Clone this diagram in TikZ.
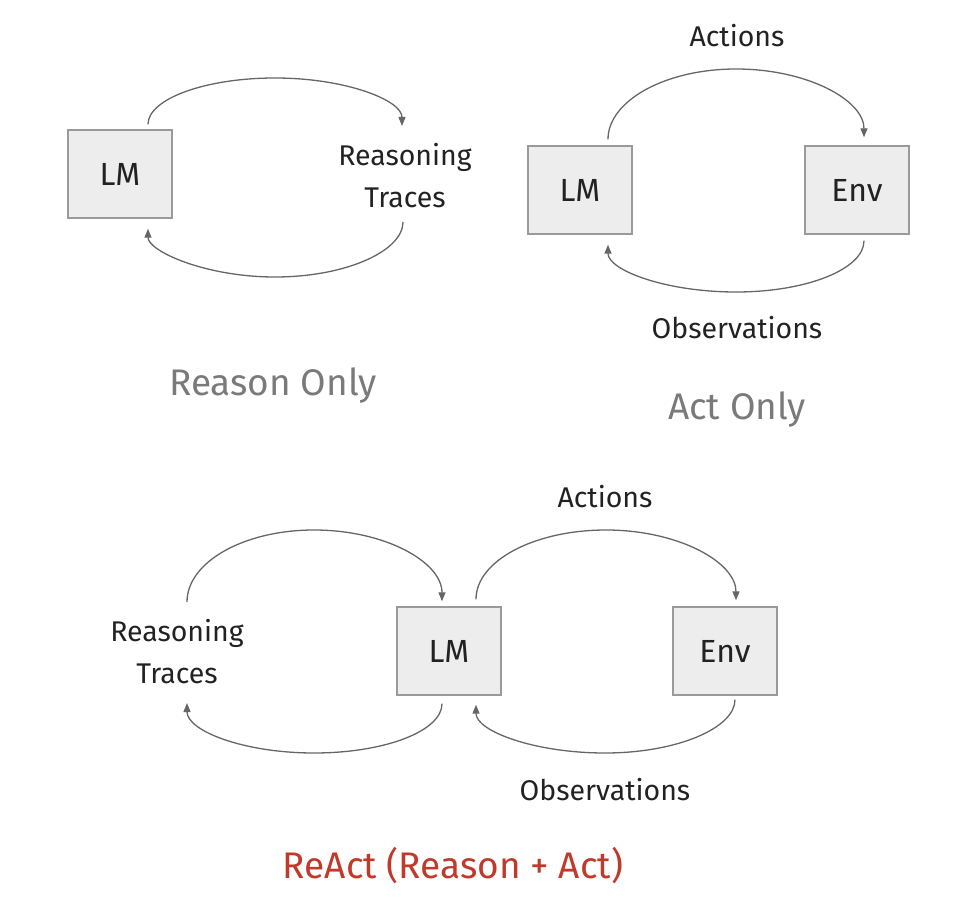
\documentclass[tikz,border=0pt]{standalone}
\usepackage{fontspec}
\setmainfont{Fira Sans}
\usetikzlibrary{arrows.meta}
\definecolor{boxfill}{HTML}{EDEDED}
\definecolor{boxline}{HTML}{9A9A9A}
\definecolor{flow}{HTML}{666666}
\definecolor{ink}{HTML}{222222}
\definecolor{caption}{HTML}{7A7A7A}
\definecolor{reactred}{HTML}{C0392B}
\tikzset{
  block/.style={draw=boxline, fill=boxfill, line width=1.4pt,
    minimum width=104pt, minimum height=88pt, inner sep=0pt,
    font=\fontsize{32}{38}\selectfont, text=ink},
  label/.style={font=\fontsize{28.5}{42}\selectfont, text=ink, align=center, inner sep=0pt},
  title/.style={font=\fontsize{37}{44}\selectfont, inner sep=0pt},
  loop/.style={draw=flow, line width=1.3pt, -{Triangle[length=9pt,width=7pt]}}
}
\begin{document}
\begin{tikzpicture}[x=1pt, y=-1pt]
\useasboundingbox (0,0) rectangle (970,912);

% ---- Reason only ----
\node[block] (lm1) at (120,174) {LM};
\node[label] (rt1) at (405,176) {Reasoning\\Traces};
\coordinate (rt1in) at (402,126);
\coordinate (rt1out) at (403,222);
\coordinate (m1a) at (275,78);
\coordinate (m1b) at (275,277);
\draw[loop] ([xshift=28pt,yshift=5pt]lm1.north)
  .. controls (148,99) and (205,78) .. (m1a)
  .. controls (345,78) and (402,100) .. (rt1in);
\draw[loop] (rt1out)
  .. controls (403,251) and (346,277) .. (m1b)
  .. controls (205,277) and (148,251) .. ([xshift=28pt,yshift=-10pt]lm1.south);
\node[title, text=caption] (t1) at (273,386) {Reason Only};

% ---- Act only ----
\node[block] (lm2) at (580,190) {LM};
\node[block] (env2) at (857,190) {Env};
\node[label] (act2) at (737,36) {Actions};
\node[label] (obs2) at (737,328) {Observations};
\coordinate (m2a) at (736,69);
\coordinate (m2b) at (736,292);
\draw[loop] ([xshift=28pt,yshift=6pt]lm2.north)
  .. controls (608,101) and (665,69) .. (m2a)
  .. controls (807,69) and (864,100) .. ([xshift=7pt,yshift=8pt]env2.north);
\draw[loop] ([xshift=7pt,yshift=-6pt]env2.south)
  .. controls (864,269) and (807,292) .. (m2b)
  .. controls (665,292) and (608,270) .. ([xshift=28pt,yshift=-10pt]lm2.south);
\node[title, text=caption] (t2) at (737,410) {Act Only};

% ---- ReAct ----
\node[block] (lm3) at (449,651) {LM};
\node[block] (env3) at (725,651) {Env};
\node[label] (rt3) at (177,652) {Reasoning\\Traces};
\node[label] (act3) at (605,497) {Actions};
\node[label] (obs3) at (605,790) {Observations};
\coordinate (rt3top) at (187,602);
\coordinate (rt3bot) at (187,703);
\coordinate (m3a) at (314,530);
\coordinate (m3b) at (314,753);
\coordinate (m3c) at (606,530);
\coordinate (m3d) at (605,753);
\draw[loop] (rt3top)
  .. controls (187,562) and (244,530) .. (m3a)
  .. controls (385,530) and (442,562) .. ([xshift=-7pt,yshift=5pt]lm3.north);
\draw[loop] ([xshift=-7pt,yshift=-8pt]lm3.south)
  .. controls (442,731) and (385,753) .. (m3b)
  .. controls (244,753) and (187,731) .. (rt3bot);
\draw[loop] ([xshift=27pt,yshift=7pt]lm3.north)
  .. controls (476,561) and (534,530) .. (m3c)
  .. controls (678,530) and (736,562) .. ([xshift=11pt,yshift=6pt]env3.north);
\draw[loop] ([xshift=10pt,yshift=-4pt]env3.south)
  .. controls (735,728) and (677,753) .. (m3d)
  .. controls (534,753) and (476,731) .. ([xshift=27pt,yshift=-9pt]lm3.south);
\node[title, text=reactred] (t3) at (453,866) {ReAct (Reason + Act)};
\end{tikzpicture}
\end{document}
